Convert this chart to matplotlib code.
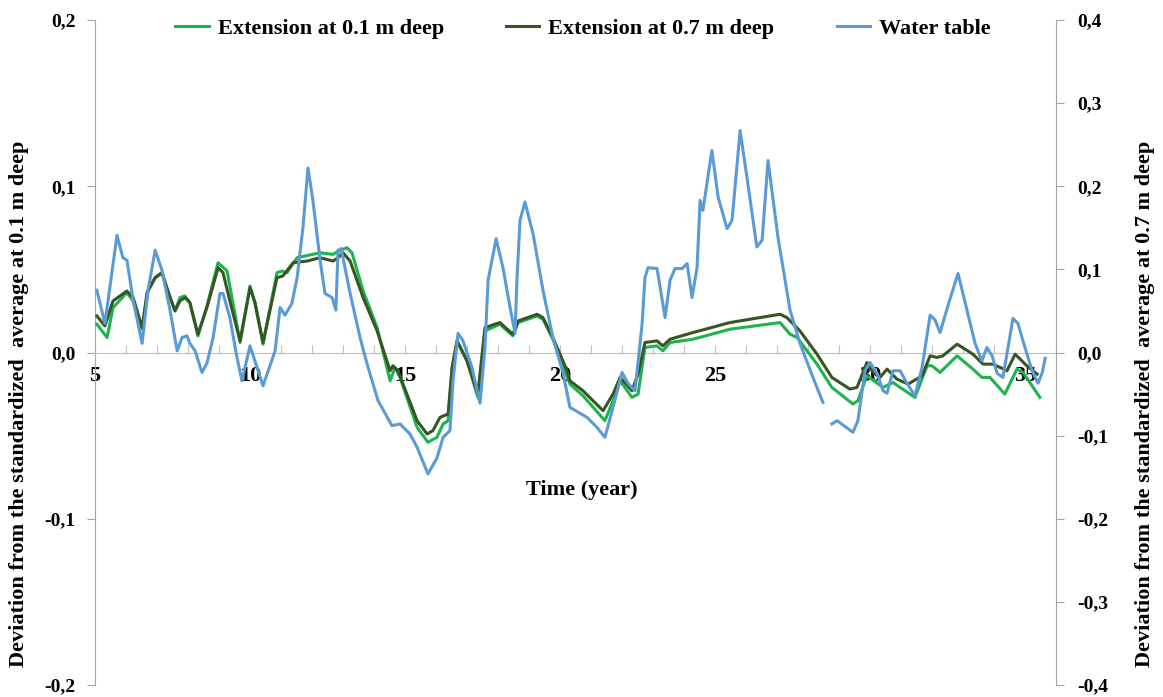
import numpy as np
import matplotlib.pyplot as plt
from matplotlib.ticker import FixedLocator, FuncFormatter

# Extension at 0.1 m deep (left axis)
yr_01 = [5.06, 5.39, 5.58, 6.03, 6.23, 6.52, 6.71, 6.94, 7.16, 7.35, 7.58, 7.74, 7.90, 8.06, 8.32,
         8.61, 8.97, 9.26, 9.68, 10.00, 10.16, 10.42, 10.87, 11.03, 11.19, 11.52, 12.26, 12.68, 12.84,
         13.13, 13.29, 13.65, 14.10, 14.52, 14.68, 14.84, 15.39, 15.74, 16.03, 16.23, 16.39, 16.52,
         16.68, 17.00, 17.35, 17.58, 18.06, 18.48, 18.65, 19.26, 19.45, 19.77, 20.00, 20.32, 20.74,
         21.45, 21.71, 21.94, 22.32, 22.52, 22.74, 23.13, 23.32, 23.55, 24.29, 25.48, 27.10, 27.42,
         27.65, 28.29, 28.77, 29.45, 29.61, 29.90, 30.42, 30.74, 30.97, 31.45, 31.84, 32.00, 32.26,
         32.81, 33.32, 33.61, 33.87, 34.35, 34.74, 34.94, 35.48]
ext_01 = [0.017, 0.009, 0.027, 0.036, 0.031, 0.014, 0.037, 0.045, 0.048, 0.037, 0.025, 0.033, 0.034,
          0.030, 0.010, 0.028, 0.054, 0.049, 0.006, 0.040, 0.030, 0.005, 0.048, 0.049, 0.048, 0.057,
          0.060, 0.059, 0.061, 0.063, 0.060, 0.037, 0.015, -0.017, -0.009, -0.015, -0.045, -0.054,
          -0.051, -0.043, -0.041, -0.009, 0.007, -0.005, -0.027, 0.013, 0.017, 0.010, 0.018, 0.022,
          0.020, 0.008, -0.003, -0.019, -0.026, -0.041, -0.029, -0.017, -0.027, -0.025, 0.003, 0.004,
          0.001, 0.006, 0.008, 0.014, 0.018, 0.011, 0.009, -0.007, -0.021, -0.031, -0.029, -0.014,
          -0.021, -0.018, -0.021, -0.027, -0.008, -0.008, -0.012, -0.002, -0.010, -0.015, -0.015,
          -0.025, -0.010, -0.012, -0.027]

# Extension at 0.7 m deep (left axis)
yr_07 = [5.06, 5.32, 5.58, 6.03, 6.23, 6.52, 6.68, 6.94, 7.16, 7.35, 7.58, 7.74, 7.90, 8.06, 8.32,
         8.61, 8.97, 9.13, 9.35, 9.68, 10.00, 10.16, 10.42, 10.87, 11.06, 11.39, 11.84, 12.26, 12.68,
         12.84, 13.00, 13.23, 13.65, 14.10, 14.52, 14.61, 14.77, 15.06, 15.39, 15.71, 15.90, 16.13,
         16.39, 16.52, 16.68, 17.00, 17.35, 17.58, 18.06, 18.48, 18.65, 19.26, 19.45, 19.77, 20.23,
         20.32, 20.74, 21.39, 21.71, 21.94, 22.32, 22.52, 22.74, 23.13, 23.32, 23.55, 24.29, 25.48,
         27.10, 27.32, 27.74, 28.29, 28.77, 29.35, 29.58, 29.90, 30.10, 30.32, 30.55, 30.87, 31.23,
         31.68, 31.94, 32.16, 32.35, 32.81, 33.32, 33.65, 33.97, 34.42, 34.68, 35.06, 35.39]
ext_07 = [0.022, 0.016, 0.031, 0.037, 0.033, 0.015, 0.036, 0.045, 0.048, 0.037, 0.025, 0.031, 0.033,
          0.030, 0.011, 0.027, 0.051, 0.048, 0.031, 0.007, 0.039, 0.030, 0.006, 0.045, 0.046, 0.054,
          0.055, 0.057, 0.055, 0.057, 0.060, 0.055, 0.033, 0.013, -0.011, -0.008, -0.011, -0.025,
          -0.041, -0.049, -0.047, -0.039, -0.037, -0.009, 0.007, -0.005, -0.025, 0.015, 0.018, 0.011,
          0.019, 0.023, 0.021, 0.009, -0.011, -0.017, -0.023, -0.035, -0.025, -0.015, -0.023, -0.013,
          0.006, 0.007, 0.004, 0.008, 0.012, 0.018, 0.023, 0.021, 0.013, -0.001, -0.015, -0.022,
          -0.021, -0.006, -0.012, -0.015, -0.010, -0.016, -0.019, -0.014, -0.002, -0.003, -0.002,
          0.005, -0.001, -0.007, -0.007, -0.011, -0.001, -0.008, -0.013]

# Water table (right axis), nan = gap in the record
yr_wt = [5.06, 5.32, 5.71, 5.90, 6.03, 6.23, 6.52, 6.71, 6.94, 7.16, 7.42, 7.65, 7.81, 7.97, 8.06,
         8.23, 8.45, 8.61, 8.81, 9.03, 9.13, 9.35, 9.58, 9.74, 10.00, 10.42, 10.81, 10.97, 11.13,
         11.35, 11.52, 11.71, 11.87, 12.03, 12.26, 12.42, 12.65, 12.77, 12.84, 12.94, 13.23, 13.55,
         13.77, 14.13, 14.58, 14.84, 15.16, 15.39, 15.74, 16.03, 16.23, 16.45, 16.55, 16.71, 16.87,
         17.16, 17.42, 17.58, 17.68, 17.94, 18.16, 18.39, 18.55, 18.61, 18.71, 18.87, 19.13, 19.45,
         19.77, 20.10, 20.32, 20.87, 21.19, 21.45, 21.71, 22.00, 22.19, 22.42, 22.65, 22.74, 22.84,
         23.13, 23.23, 23.39, 23.55, 23.71, 23.94, 24.10, 24.26, 24.42, 24.52, 24.61, 24.90, 25.10,
         25.39, 25.55, 25.81, 26.03, 26.35, 26.52, 26.71, 27.03, 27.42, 27.74, 28.16, 28.48, 28.60,
         28.77, 28.94, 29.45, 29.61, 29.84, 30.00, 30.23, 30.42, 30.55, 30.74, 30.97, 31.19, 31.45,
         31.68, 31.94, 32.10, 32.26, 32.52, 32.84, 33.13, 33.39, 33.61, 33.77, 33.94, 34.10, 34.29,
         34.61, 34.77, 35.00, 35.23, 35.42, 35.55, 35.65]
water = [0.075, 0.035, 0.141, 0.114, 0.111, 0.063, 0.011, 0.075, 0.123, 0.099, 0.051, 0.002, 0.018,
         0.020, 0.011, 0.002, -0.024, -0.013, 0.018, 0.071, 0.071, 0.042, -0.006, -0.034, 0.008,
         -0.040, 0.002, 0.054, 0.045, 0.059, 0.090, 0.151, 0.222, 0.183, 0.111, 0.071, 0.066, 0.051,
         0.123, 0.125, 0.071, 0.018, -0.013, -0.058, -0.088, -0.086, -0.098, -0.114, -0.146, -0.127,
         -0.102, -0.094, -0.034, 0.023, 0.014, -0.018, -0.061, 0.006, 0.087, 0.137, 0.102, 0.054,
         0.023, 0.087, 0.159, 0.181, 0.143, 0.075, 0.018, -0.025, -0.066, -0.078, -0.090, -0.102,
         -0.066, -0.024, -0.037, -0.046, 0.035, 0.090, 0.102, 0.101, 0.078, 0.042, 0.087, 0.101,
         0.101, 0.107, 0.066, 0.102, 0.183, 0.171, 0.243, 0.187, 0.149, 0.159, 0.267, 0.211, 0.127,
         0.135, 0.231, 0.139, 0.051, 0.011, -0.030, -0.060, np.nan, -0.086, -0.082, -0.096, -0.082,
         -0.022, -0.012, -0.025, -0.046, -0.049, -0.022, -0.022, -0.037, -0.052, -0.018, 0.045,
         0.039, 0.024, 0.057, 0.095, 0.051, 0.011, -0.010, 0.006, -0.004, -0.025, -0.030, 0.041,
         0.035, 0.006, -0.022, -0.037, -0.025, -0.007]

serif = 'Liberation Serif'
grey = '#a6a6a6'

fig = plt.figure(figsize=(11.63, 6.97), dpi=100)
ax = fig.add_axes([95 / 1163, 12 / 697, 961 / 1163, 665 / 697])
ax2 = ax.twinx()

l1, = ax.plot(yr_01, ext_01, color='#1db34d', lw=2.2, zorder=3, label='Extension at 0.1 m deep')
l2, = ax.plot(yr_07, ext_07, color='#375623', lw=2.2, zorder=3, label='Extension at 0.7 m deep')
l3, = ax2.plot(yr_wt, water, color='#5b9bd5', lw=2.2, label='Water table')

ax.set_xlim(5, 36)
ax.set_ylim(-0.2, 0.2)
ax2.set_ylim(-0.4, 0.4)

ax.set_yticks([-0.2, -0.1, 0.0, 0.1, 0.2])
ax2.set_yticks([-0.4, -0.3, -0.2, -0.1, 0.0, 0.1, 0.2, 0.3, 0.4])
comma = FuncFormatter(lambda v, p: ('%.1f' % v).replace('.', ',').replace('-0,0', '0,0'))
ax.yaxis.set_major_formatter(comma)
ax2.yaxis.set_major_formatter(comma)

ax.xaxis.set_major_locator(FixedLocator(list(range(5, 37))))
ax.xaxis.set_major_formatter(FuncFormatter(lambda v, p: '%d' % v if int(round(v)) % 5 == 0 and v < 36 else ''))

for a in (ax, ax2):
    for s in a.spines.values():
        s.set_visible(False)
ax.spines['left'].set_visible(True)
ax.spines['left'].set_color(grey)
ax.spines['bottom'].set_visible(True)
ax.spines['bottom'].set_position(('data', 0))
ax.spines['bottom'].set_color('#c0c0c0')
ax2.spines['right'].set_visible(True)
ax2.spines['right'].set_color(grey)

ax.tick_params(axis='y', direction='out', length=6, color=grey, pad=8)
ax2.tick_params(axis='y', direction='out', length=6, color=grey, pad=9)
ax.tick_params(axis='x', direction='in', length=6, color='#c0c0c0', pad=10)

for lab in ax.get_yticklabels() + ax2.get_yticklabels():
    lab.set_fontfamily(serif)
    lab.set_fontweight('bold')
    lab.set_fontsize(14)
for lab in ax.get_xticklabels():
    lab.set_fontfamily(serif)
    lab.set_fontweight('bold')
    lab.set_fontsize(16)

fig.text(582 / 1163, 1 - 490 / 697, 'Time (year)', ha='center', va='center',
         fontfamily=serif, fontweight='bold', fontsize=16)
fig.text(19 / 1163, 1 - 404 / 697, 'Deviation from the standardized  average at 0.1 m deep',
         rotation=90, ha='center', va='center', fontfamily=serif, fontweight='bold', fontsize=16)
fig.text(1145 / 1163, 1 - 404 / 697, 'Deviation from the standardized  average at 0.7 m deep',
         rotation=90, ha='center', va='center', fontfamily=serif, fontweight='bold', fontsize=16)

fig.legend(handles=[l1, l2, l3], loc='center', bbox_to_anchor=(583 / 1163, 1 - 29 / 697), ncol=3,
           frameon=False, handlelength=1.5, columnspacing=2.8, handletextpad=0.4,
           prop={'family': serif, 'weight': 'bold', 'size': 16})

fig.savefig('out.png', dpi=100)
